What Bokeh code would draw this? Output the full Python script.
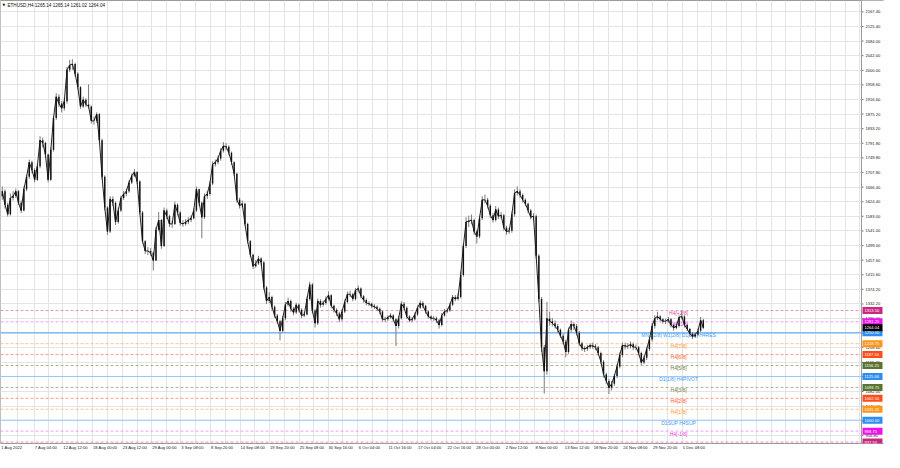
import pandas as pd
from bokeh.plotting import figure
from bokeh.models import FixedTicker, Label, Span, ColumnDataSource
from bokeh.embed import file_html
from bokeh.resources import INLINE
from bokeh.core.properties import value

# ---------------- data ----------------
chart_title = "ETHUSD,H4  1265.14 1265.14 1261.02 1264.04"
series_start = "2022-08-01 00:00"
candle_hours = 12
first_open = 1640.0

close = [
    1654.7, 1616.2, 1588.6, 1635.4, 1640.9, 1654.7, 1621.7, 1599.6, 1660.2, 1696.0,
    1737.3, 1715.3, 1687.7, 1726.3, 1800.6, 1792.4, 1759.3, 1687.7, 1773.1, 1863.9,
    1924.5, 1905.3, 1891.5, 1911.7, 2001.6, 2015.4, 2018.1, 1990.6, 1952.0, 1897.0,
    1916.2, 1902.5, 1897.0, 1855.7, 1855.7, 1874.9, 1800.6, 1696.0, 1607.9, 1539.1,
    1632.7, 1621.7, 1566.6, 1599.6, 1635.4, 1646.5, 1654.7, 1679.5, 1698.8, 1709.8,
    1682.2, 1594.1, 1511.5, 1484.0, 1484.0, 1478.5, 1456.5, 1544.6, 1572.1, 1497.8,
    1599.6, 1583.1, 1561.1, 1561.1, 1616.2, 1594.1, 1563.9, 1561.1, 1566.6, 1572.1,
    1577.6, 1599.6, 1660.2, 1621.7, 1580.4, 1640.9, 1646.5, 1676.7, 1731.8, 1737.3,
    1748.3, 1770.4, 1784.1, 1781.4, 1764.8, 1737.3, 1704.3, 1629.9, 1613.4, 1618.9,
    1561.1, 1511.5, 1473.0, 1440.0, 1448.2, 1462.0, 1451.0, 1379.4, 1340.9, 1351.9,
    1324.3, 1299.6, 1283.0, 1255.5, 1291.3, 1329.8, 1340.9, 1318.8, 1307.8, 1329.8,
    1316.1, 1299.6, 1302.3, 1346.4, 1387.7, 1313.3, 1277.5, 1340.9, 1329.8, 1335.4,
    1346.4, 1357.4, 1327.1, 1316.1, 1305.1, 1288.5, 1310.6, 1338.1, 1360.1, 1360.1,
    1346.4, 1371.2, 1376.7, 1354.6, 1343.6, 1335.4, 1332.6, 1327.1, 1324.3, 1318.8,
    1310.6, 1288.5, 1288.5, 1294.0, 1299.6, 1288.5, 1269.3, 1291.3, 1332.6, 1321.6,
    1296.8, 1285.8, 1288.5, 1302.3, 1321.6, 1335.4, 1327.1, 1310.6, 1296.8, 1291.3,
    1291.3, 1285.8, 1272.0, 1299.6, 1310.6, 1313.3, 1329.8, 1351.9, 1346.4, 1351.9,
    1415.2, 1497.8, 1566.6, 1569.4, 1572.1, 1539.1, 1525.3, 1577.6, 1629.9, 1629.9,
    1613.4, 1585.9, 1572.1, 1602.4, 1583.1, 1585.9, 1550.1, 1539.1, 1541.8, 1588.6,
    1649.2, 1654.7, 1643.7, 1629.9, 1618.9, 1599.6, 1580.4, 1583.1, 1470.3, 1346.4,
    1208.7, 1139.9, 1291.0, 1283.0, 1277.5, 1269.3, 1258.3, 1241.7, 1225.2, 1194.9,
    1258.3, 1274.8, 1269.3, 1250.0, 1219.7, 1206.0, 1203.2, 1208.7, 1214.2, 1211.5,
    1208.7, 1192.2, 1167.4, 1131.6, 1112.4, 1093.1, 1104.1, 1126.1, 1153.7, 1186.7,
    1214.2, 1211.5, 1211.5, 1217.0, 1208.7, 1208.7, 1192.2, 1164.7, 1178.4, 1203.2,
    1230.7, 1269.3, 1291.3, 1296.8, 1288.5, 1283.0, 1283.0, 1288.5, 1272.0, 1263.8,
    1269.3, 1294.0, 1296.8, 1272.0, 1261.0, 1247.2, 1239.0, 1244.5, 1255.5, 1285.8,
    1264.04,
]

high = [
    1668, 1660, 1622, 1648, 1655, 1662, 1658, 1628, 1668, 1702,
    1745, 1742, 1720, 1732, 1812, 1808, 1796, 1762, 1780, 1870,
    1935, 1932, 1912, 1920, 2010, 2030, 2032, 2022, 1995, 1955,
    1925, 1920, 1960, 1900, 1868, 1880, 1878, 1805, 1700, 1612,
    1640, 1640, 1625, 1608, 1642, 1655, 1662, 1686, 1705, 1718,
    1712, 1686, 1598, 1515, 1495, 1492, 1482, 1552, 1595, 1575,
    1608, 1605, 1588, 1570, 1625, 1620, 1598, 1572, 1575, 1580,
    1585, 1606, 1668, 1662, 1625, 1648, 1655, 1684, 1740, 1745,
    1756, 1778, 1795, 1792, 1786, 1768, 1740, 1708, 1636, 1628,
    1622, 1565, 1515, 1476, 1458, 1470, 1466, 1455, 1384, 1366,
    1356, 1328, 1304, 1287, 1298, 1338, 1350, 1345, 1324, 1336,
    1334, 1320, 1310, 1354, 1396, 1392, 1318, 1348, 1346, 1342,
    1354, 1368, 1360, 1330, 1320, 1310, 1318, 1345, 1368, 1370,
    1364, 1378, 1385, 1380, 1358, 1348, 1340, 1336, 1332, 1328,
    1322, 1314, 1296, 1300, 1306, 1303, 1292, 1298, 1340, 1338,
    1325, 1300, 1295, 1308, 1328, 1342, 1340, 1330, 1314, 1300,
    1298, 1296, 1290, 1306, 1318, 1320, 1336, 1358, 1358, 1362,
    1425, 1505, 1580, 1585, 1588, 1576, 1545, 1585, 1640, 1645,
    1636, 1618, 1592, 1612, 1608, 1595, 1590, 1556, 1550, 1596,
    1660, 1668, 1660, 1648, 1634, 1622, 1604, 1592, 1588, 1475,
    1352, 1215, 1338, 1310, 1292, 1285, 1275, 1262, 1248, 1230,
    1265, 1285, 1280, 1275, 1255, 1225, 1212, 1215, 1220, 1222,
    1218, 1212, 1196, 1172, 1136, 1118, 1112, 1132, 1160, 1194,
    1222, 1222, 1220, 1225, 1222, 1216, 1212, 1196, 1185, 1210,
    1238, 1278, 1300, 1310, 1300, 1292, 1290, 1295, 1292, 1276,
    1278, 1300, 1312, 1300, 1276, 1264, 1252, 1250, 1262, 1295,
    1290,
]

low = [
    1630, 1605, 1582, 1585, 1628, 1636, 1615, 1592, 1597, 1655,
    1690, 1706, 1680, 1684, 1720, 1780, 1750, 1680, 1684, 1768,
    1858, 1895, 1880, 1885, 1905, 1995, 2002, 1982, 1945, 1890,
    1893, 1895, 1890, 1848, 1845, 1850, 1795, 1688, 1600, 1530,
    1535, 1612, 1558, 1562, 1595, 1630, 1640, 1650, 1675, 1695,
    1675, 1588, 1505, 1475, 1472, 1470, 1428, 1455, 1540, 1490,
    1495, 1575, 1552, 1550, 1558, 1585, 1556, 1553, 1556, 1560,
    1566, 1574, 1595, 1612, 1520, 1575, 1632, 1642, 1672, 1725,
    1732, 1742, 1765, 1772, 1758, 1730, 1698, 1622, 1605, 1608,
    1555, 1505, 1466, 1432, 1436, 1444, 1442, 1372, 1332, 1335,
    1316, 1292, 1275, 1228, 1250, 1286, 1325, 1310, 1300, 1304,
    1308, 1292, 1295, 1300, 1342, 1305, 1265, 1272, 1322, 1325,
    1330, 1342, 1320, 1308, 1298, 1280, 1284, 1306, 1334, 1352,
    1340, 1342, 1365, 1348, 1336, 1328, 1326, 1320, 1318, 1312,
    1303, 1282, 1280, 1284, 1290, 1282, 1212, 1262, 1288, 1315,
    1290, 1280, 1280, 1285, 1298, 1318, 1320, 1304, 1290, 1285,
    1284, 1278, 1262, 1268, 1296, 1306, 1310, 1326, 1340, 1342,
    1348, 1410, 1492, 1552, 1560, 1530, 1505, 1520, 1572, 1620,
    1605, 1578, 1565, 1568, 1575, 1576, 1542, 1530, 1533, 1536,
    1582, 1642, 1636, 1622, 1612, 1592, 1574, 1570, 1462, 1338,
    1195, 1076, 1130, 1270, 1268, 1262, 1250, 1235, 1218, 1180,
    1190, 1252, 1258, 1242, 1212, 1198, 1195, 1198, 1204, 1204,
    1200, 1185, 1160, 1122, 1104, 1075, 1085, 1098, 1120, 1148,
    1180, 1202, 1203, 1205, 1200, 1200, 1185, 1158, 1160, 1172,
    1198, 1225, 1262, 1286, 1280, 1276, 1275, 1278, 1265, 1256,
    1260, 1265, 1288, 1265, 1255, 1240, 1232, 1235, 1240, 1252,
    1260,
]

# time-axis labels (MT4 style) and the times they mark
x_tick_times = [
    "2022-08-01 00:00", "2022-08-07 04:00", "2022-08-12 12:00", "2022-08-18 00:00",
    "2022-08-23 12:00", "2022-08-29 00:00", "2022-09-03 08:00", "2022-09-08 20:00",
    "2022-09-14 08:00", "2022-09-19 20:00", "2022-09-25 08:00", "2022-09-30 16:00",
    "2022-10-06 04:00", "2022-10-11 16:00", "2022-10-17 04:00", "2022-10-22 16:00",
    "2022-10-28 00:00", "2022-11-02 12:00", "2022-11-08 00:00", "2022-11-13 12:00",
    "2022-11-18 20:00", "2022-11-24 08:00", "2022-11-29 20:00", "2022-12-05 08:00",
]
x_tick_labels = [
    "1 Aug 2022", "7 Aug 04:00", "12 Aug 12:00", "18 Aug 00:00", "23 Aug 12:00",
    "29 Aug 00:00", "3 Sep 08:00", "8 Sep 20:00", "14 Sep 08:00", "19 Sep 20:00",
    "25 Sep 08:00", "30 Sep 16:00", "6 Oct 04:00", "11 Oct 16:00", "17 Oct 04:00",
    "22 Oct 16:00", "28 Oct 00:00", "2 Nov 12:00", "8 Nov 00:00", "13 Nov 12:00",
    "18 Nov 20:00", "24 Nov 08:00", "29 Nov 20:00", "5 Dec 08:00",
]

# price-scale labels
y_ticks = [2167.40, 2125.40, 2084.00, 2042.00, 2000.00, 1958.60, 1916.60, 1875.20,
           1833.20, 1791.80, 1749.80, 1707.80, 1666.40, 1624.40, 1583.00, 1541.00,
           1499.00, 1457.60, 1415.60, 1374.20, 1332.20, 1290.00, 1248.80, 1208.60,
           1165.40, 1124.00, 1082.00, 1040.00, 998.40, 956.80]

# Murrey-math style levels
level_price = [1313.50, 1281.25, 1250.00, 1218.75, 1187.50, 1156.25, 1125.00,
               1093.75, 1062.50, 1031.25, 1000.00, 968.75, 937.50]
level_text = ["H4[+2/8]", "H4[+1/8]", "MN1[2/8] W1[2/8] D1[2/8] H4RES", "H4[7/8]",
              "H4[6/8]", "H4[5/8]", "D1[1/8] H4PIVOT", "H4[3/8]", "H4[2/8]",
              "H4[1/8]", "D1SUP H4SUP", "H4[-1/8]", "H4[-2/8]"]
level_line_color = ["#e46fa8", "#ee82ee", "#3d9bf5", "#ffb061", "#ff7a5c", "#9c9c74",
                    "#8cc4fb", "#9c9c74", "#ff7a5c", "#ffb061", "#8cc4fb", "#ee82ee", "#e46fa8"]
level_dash = ["dashed", "dashed", "solid", "dashed", "dashed", "dashed", "solid",
              "dashed", "dashed", "dashed", "solid", "dashed", "dashed"]
level_text_color = ["#d9519b", "#ee44ee", "#3d9bf5", "#ff9a33", "#ff5a33", "#6f7f3c",
                    "#3d9bf5", "#6f7f3c", "#ff5a33", "#ff9a33", "#3d9bf5", "#ee44ee", "#d9519b"]
level_box_color = ["#c8297f", "#ee11ee", "#2b8ef0", "#ff961a", "#ff4d1a", "#5b7330",
                   "#2b8ef0", "#5b7330", "#ff4d1a", "#ff961a", "#2b8ef0", "#ee11ee", "#c8297f"]

last_price = 1264.04

# ---------------- layout constants ----------------
FIG_W, FIG_H = 884, 452
SCALE_W_PX = 23          # width of the price scale strip
AXIS_H_PX = 9            # height of the time scale strip
X_START, CHART_END = -0.5, 957.5
Y_START, Y_END = 933.4, 2199.8
px_per_idx = (FIG_W - SCALE_W_PX) / (CHART_END - X_START)
X_END = CHART_END + SCALE_W_PX / px_per_idx
AX_FONT = "4.1px"

n = min(len(close), len(high), len(low))
close, high, low = close[:n], high[:n], low[:n]
opens = [first_open] + close[:-1]

t0 = pd.Timestamp(series_start)
bar_hours = 4.0  # x unit = one H4 bar
times = pd.date_range(t0, periods=n, freq=f"{candle_hours}h")
xs = [((t - t0) / pd.Timedelta(hours=1)) / bar_hours + candle_hours / bar_hours / 2 for t in times]

src = ColumnDataSource(dict(
    x=xs, open=opens, close=close, high=high, low=low,
    top=[max(o, c) for o, c in zip(opens, close)],
    bottom=[min(o, c) for o, c in zip(opens, close)],
))

p = figure(width=FIG_W, height=FIG_H, x_range=(X_START, X_END), y_range=(Y_START, Y_END),
           y_axis_location=None, output_backend="svg", toolbar_location=None,
           min_border_left=0, min_border_top=0, min_border_right=0,
           min_border_bottom=AXIS_H_PX)
p.background_fill_color = "white"
p.border_fill_color = "white"
p.outline_line_color = "#9a9a9a"
p.outline_line_width = 1

# ---- time axis (labels start at their tick, MT4 style) ----
tick_pos = [((pd.Timestamp(s) - t0) / pd.Timedelta(hours=1)) / bar_hours for s in x_tick_times]
label_shift_px = [len(lab) * 0.26 * 4.1 for lab in x_tick_labels]
label_pos = [int(round(tp + sh / px_per_idx)) for tp, sh in zip(tick_pos, label_shift_px)]
p.xaxis.ticker = FixedTicker(ticks=label_pos)
p.xaxis.major_label_overrides = {pos: lab for pos, lab in zip(label_pos, x_tick_labels)}
p.xaxis.major_label_text_font_size = AX_FONT
p.xaxis.major_label_text_font = "Liberation Sans"
p.xaxis.major_label_text_color = "#1a1a1a"
p.xaxis.major_label_standoff = 1
p.xaxis.major_tick_out = 0
p.xaxis.major_tick_in = 0
p.xaxis.minor_tick_out = 0
p.xaxis.minor_tick_in = 0
p.xaxis.axis_line_color = None

# grid: vertical lines at every label time and half-way between them
mid = [(a + b) / 2 for a, b in zip(tick_pos[:-1], tick_pos[1:])]
step = (tick_pos[-1] - tick_pos[0]) / (len(tick_pos) - 1)
extra = []
v = tick_pos[-1] + step / 2
while v < CHART_END:
    extra.append(v)
    v += step / 2
grid_color = "#e4e4e4"
p.xgrid.ticker = FixedTicker(ticks=sorted(tick_pos + mid + extra))
p.xgrid.grid_line_color = grid_color
p.ygrid.ticker = FixedTicker(ticks=y_ticks)
p.ygrid.grid_line_color = grid_color

# level lines
for price, col, dash in zip(level_price, level_line_color, level_dash):
    p.add_layout(Span(location=price, dimension="width", line_color=col,
                      line_dash="solid" if dash == "solid" else "3 2", line_width=1,
                      line_alpha=0.9 if dash == "solid" else 0.75, level="underlay"))

# level texts
LABEL_X = 754
tsrc = ColumnDataSource(dict(x=[LABEL_X] * len(level_price), y=level_price,
                             text=level_text, color=level_text_color))
p.text(x="x", y="y", text="text", text_color="color", source=tsrc,
       text_font=value("Liberation Sans"), text_font_size="5px",
       text_align="center", text_baseline="middle", y_offset=2.5)

# candles (MT4 small-scale look: wick, body and the running close)
p.segment(x0="x", y0="low", x1="x", y1="high", source=src, line_color="#7a7a7a", line_width=1)
p.line(x="x", y="close", source=src, line_color="#222222", line_width=1)
p.vbar(x="x", width=1.6, top="top", bottom="bottom", source=src,
       fill_color="#111111", line_color=None)

# ---- price scale strip on the right ----
p.quad(left=[CHART_END], right=[X_END], bottom=[Y_START], top=[Y_END],
       fill_color="white", line_color=None)
p.add_layout(Span(location=CHART_END, dimension="height", line_color="#9a9a9a", line_width=1))
ysrc = ColumnDataSource(dict(x=[CHART_END] * len(y_ticks), y=y_ticks,
                             text=[f"{v:.2f}" for v in y_ticks]))
p.text(x="x", y="y", text="text", source=ysrc, x_offset=4, text_color="#1a1a1a",
       text_font=value("Liberation Sans"), text_font_size=AX_FONT,
       text_align="left", text_baseline="middle")
p.segment(x0=[CHART_END] * len(y_ticks), y0=y_ticks, x1=[CHART_END + 2 / px_per_idx] * len(y_ticks),
          y1=y_ticks, line_color="#777777", line_width=1)

box_prices = level_price + [last_price]
box_colors = level_box_color + ["#000000"]
bsrc = ColumnDataSource(dict(x=[CHART_END + 11 / px_per_idx] * len(box_prices), y=box_prices,
                             tx=[CHART_END] * len(box_prices),
                             text=[f"{v:.2f}" for v in box_prices], color=box_colors))
p.rect(x="x", y="y", width=20, height=7, width_units="screen", height_units="screen",
       fill_color="color", line_color=None, source=bsrc)
p.text(x="tx", y="y", text="text", source=bsrc, x_offset=3, text_color="white",
       text_font=value("Liberation Sans"), text_font_size=AX_FONT,
       text_align="left", text_baseline="middle")

# title
p.add_layout(Label(x=X_START, y=Y_END, text="\u25BC", x_offset=2, y_offset=-2,
                   text_baseline="top", text_align="left", text_font_size="3.5px",
                   text_font="DejaVu Sans", text_color="#111111"))
p.add_layout(Label(x=X_START, y=Y_END, text=chart_title, x_offset=7, y_offset=-2,
                   text_baseline="top", text_align="left", text_font_size="4.6px",
                   text_font="Liberation Sans", text_color="#111111"))

open("out.html", "w").write(file_html(p, INLINE))
